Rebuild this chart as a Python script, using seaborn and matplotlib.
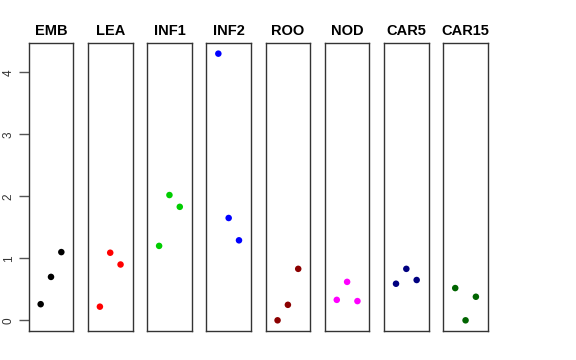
import matplotlib
matplotlib.use("Agg")
import matplotlib.pyplot as plt
import seaborn as sns
import pandas as pd

tissues = ["EMB", "LEA", "INF1", "INF2", "ROO", "NOD", "CAR5", "CAR15"]
colors = ["#000000", "#FF0000", "#00CD00", "#0000FF", "#8B0000", "#FF00FF", "#000080", "#006400"]
replicate = [1, 2, 3]
values = {
    "EMB":   [0.26, 0.70, 1.10],
    "LEA":   [0.22, 1.09, 0.90],
    "INF1":  [1.20, 2.02, 1.83],
    "INF2":  [4.30, 1.65, 1.29],
    "ROO":   [0.00, 0.25, 0.83],
    "NOD":   [0.33, 0.62, 0.31],
    "CAR5":  [0.59, 0.83, 0.65],
    "CAR15": [0.52, 0.00, 0.38],
}
yticks = [0, 1, 2, 3, 4]

rows = []
for t in tissues:
    for r, v in zip(replicate, values[t]):
        rows.append({"tissue": t, "rep": r, "value": v})
df = pd.DataFrame(rows)

sns.set_style("white")
plt.rcParams["font.family"] = ["Liberation Sans", "DejaVu Sans"]

fig, axes = plt.subplots(1, len(tissues), figsize=(5.76, 3.6), dpi=100, sharey=True)
fig.subplots_adjust(left=0.0498, right=0.847, top=0.8806, bottom=0.0806, wspace=0.327)

ymin, ymax = 0.0, 4.3
pad = (ymax - ymin) * 0.04
for ax, t, c in zip(axes, tissues, colors):
    sub = df[df["tissue"] == t]
    sns.scatterplot(data=sub, x="rep", y="value", ax=ax, color=c, s=22,
                    edgecolor="none", linewidth=0, legend=False)
    ax.set_xlim(-0.16, 4.16)
    ax.set_ylim(ymin - pad, ymax + pad)
    ax.set_xticks([])
    ax.set_xlabel("")
    ax.set_ylabel("")
    ax.set_title(t, fontsize=10.5, fontweight="bold", pad=6, color="black")
    for sp in ax.spines.values():
        sp.set_visible(True)
        sp.set_color("#333333")
        sp.set_linewidth(1.0)
    ax.tick_params(axis="y", left=False, labelleft=False)

ax0 = axes[0]
ax0.set_yticks(yticks)
ax0.set_yticklabels([str(v) for v in yticks], rotation=90, va="center", fontsize=8.5, color="#333333")
ax0.tick_params(axis="y", left=True, labelleft=True, length=7, width=1, color="#555555", pad=3)

fig.savefig("out.png", dpi=100)
